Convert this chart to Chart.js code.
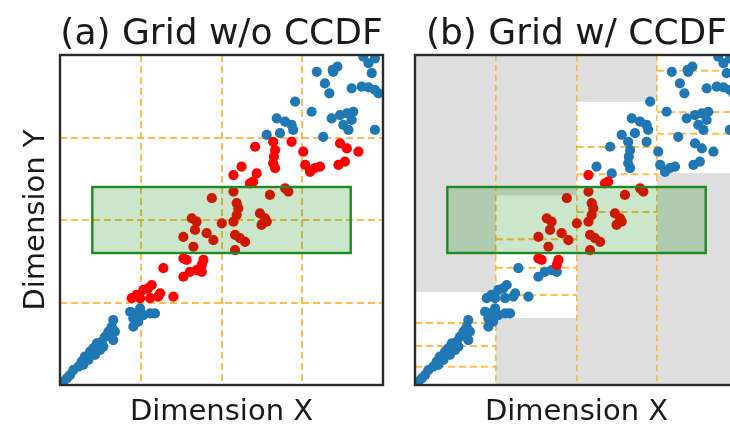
<!DOCTYPE html>
<html><head><meta charset="utf-8">
<title>Grid w/o CCDF vs Grid w/ CCDF</title>
<script src="https://cdn.jsdelivr.net/npm/chart.js@4.4.1/dist/chart.umd.min.js"></script>
<style>
html,body{margin:0;padding:0;overflow:hidden;background:#fff;width:730px;height:425px}
#panelA{position:absolute;left:0;top:0}
#panelB{position:absolute;left:400px;top:0}
</style></head>
<body>
<canvas id="panelA" width="400" height="425"></canvas>
<canvas id="panelB" width="345" height="425"></canvas>
<script>
// points (same points in both panels)
var ptX = [0.795,0.846,0.859,0.844,0.939,0.955,0.975,0.965,0.820,0.834,0.903,0.934,0.955,0.975,0.986,
  0.728,0.779,0.841,0.867,0.888,0.908,0.903,0.877,0.893,0.975,0.815,0.671,0.697,0.717,0.722,0.681,0.640,
  0.217,0.232,0.248,0.258,0.279,0.294,0.227,0.242,0.227,0.165,0.160,0.150,0.170,0.139,0.129,0.114,0.165,
  0.103,0.093,0.077,0.088,0.067,0.057,0.072,0.041,0.031,0.021,0.010,0.124,0.108,0.134,
  0.604,0.660,0.666,0.662,0.660,0.666,0.717,0.753,0.759,0.774,0.789,0.805,0.867,0.888,0.924,0.862,0.882,
  0.562,0.537,0.609,0.588,0.598,0.650,0.697,0.707,0.470,0.537,0.547,0.552,0.547,
  0.408,0.423,0.418,0.454,0.475,0.382,0.413,0.501,0.537,0.619,0.635,0.640,0.624,
  0.542,0.557,0.573,0.542,0.382,0.392,0.444,0.439,0.423,0.402,0.382,0.439,0.320,
  0.222,0.237,0.258,0.284,0.273,0.304,0.310,0.351,0.248,0.279];
var ptY = [0.949,0.949,0.965,0.955,0.995,0.975,0.990,0.945,0.914,0.884,0.899,0.904,0.902,0.894,0.884,
  0.859,0.828,0.808,0.818,0.823,0.828,0.803,0.788,0.773,0.773,0.752,0.808,0.798,0.788,0.773,0.763,0.758,
  0.222,0.217,0.232,0.212,0.217,0.217,0.202,0.192,0.177,0.197,0.177,0.162,0.162,0.146,0.131,0.126,0.136,
  0.111,0.101,0.086,0.076,0.071,0.056,0.061,0.045,0.030,0.020,0.010,0.106,0.091,0.116,
  0.722,0.737,0.712,0.692,0.672,0.657,0.737,0.707,0.667,0.646,0.657,0.662,0.732,0.717,0.707,0.667,0.677,
  0.662,0.636,0.641,0.611,0.616,0.576,0.596,0.586,0.566,0.586,0.551,0.535,0.515,
  0.505,0.495,0.470,0.460,0.439,0.449,0.419,0.490,0.495,0.520,0.505,0.495,0.485,
  0.455,0.445,0.434,0.409,0.384,0.379,0.379,0.364,0.348,0.343,0.328,0.343,0.354,
  0.263,0.273,0.288,0.303,0.293,0.268,0.278,0.268,0.263,0.263];

// uniform grid and query rectangle
var gridEdges = [0, 0.25, 0.5, 0.75, 1];
var queryBox = [0.1, 0.4, 0.9, 0.6]; // x0, y0, x1, y1

// CCDF cells per column in panel (b)
var colLow = [0, 0.203, 0.4, 0.642];
var colHigh = [0.282, 0.575, 0.858, 1];
var colSplits = [[0.055, 0.118, 0.188], [0.273, 0.355, 0.442], [0.524, 0.639, 0.721], [0.761, 0.827, 0.952]];

var titles = ['(a) Grid w/o CCDF', '(b) Grid w/ CCDF'];

var BLUE = '#1f77b4', RED = '#ff0000';
var ORANGE = 'rgba(255,165,0,0.72)';

function overlaps(a0, a1, b0, b1) { return a0 < b1 && b0 < a1; }
function cellOf(edges, v) {
  for (var i = 0; i < edges.length - 1; i++) {
    if (v >= edges[i] && v <= edges[i + 1]) return [edges[i], edges[i + 1]];
  }
  return null;
}
function hitA(x, y) {
  var cx = cellOf(gridEdges, x), cy = cellOf(gridEdges, y);
  return overlaps(cx[0], cx[1], queryBox[0], queryBox[2]) && overlaps(cy[0], cy[1], queryBox[1], queryBox[3]);
}
function hitB(x, y) {
  var c = Math.min(3, Math.floor(x / 0.25));
  var cy = cellOf([colLow[c]].concat(colSplits[c], [colHigh[c]]), y);
  if (!cy) return false;
  return overlaps(c * 0.25, (c + 1) * 0.25, queryBox[0], queryBox[2]) && overlaps(cy[0], cy[1], queryBox[1], queryBox[3]);
}
function splitPoints(hit) {
  var red = [], blue = [];
  for (var i = 0; i < ptX.length; i++) {
    (hit(ptX[i], ptY[i]) ? red : blue).push({x: ptX[i], y: ptY[i]});
  }
  return {red: red, blue: blue};
}

function gridColor(ctx) {
  if (ctx.tick && (ctx.tick.value <= 0 || ctx.tick.value >= 1)) return 'rgba(0,0,0,0)';
  return ORANGE;
}

function panelPlugin(title, ccdf, yLabel) {
  return {
    id: 'panel',
    beforeDraw: function(chart) {
      if (!ccdf) return;
      var a = chart.chartArea, xs = chart.scales.x, ys = chart.scales.y, ctx = chart.ctx;
      ctx.save();
      ctx.fillStyle = '#dedede';
      ctx.fillRect(a.left, a.top, a.right - a.left, a.bottom - a.top);
      ctx.fillStyle = '#ffffff';
      for (var c = 0; c < 4; c++) {
        var x0 = xs.getPixelForValue(gridEdges[c]), x1 = xs.getPixelForValue(gridEdges[c + 1]);
        var y0 = ys.getPixelForValue(colHigh[c]), y1 = ys.getPixelForValue(colLow[c]);
        ctx.fillRect(x0, y0, x1 - x0, y1 - y0);
      }
      ctx.restore();
    },
    beforeDatasetsDraw: function(chart) {
      if (!ccdf) return;
      var xs = chart.scales.x, ys = chart.scales.y, ctx = chart.ctx;
      ctx.save();
      ctx.strokeStyle = ORANGE;
      ctx.lineWidth = 2;
      ctx.setLineDash([7, 4]);
      for (var c = 0; c < 4; c++) {
        var x0 = xs.getPixelForValue(gridEdges[c]), x1 = xs.getPixelForValue(gridEdges[c + 1]);
        colSplits[c].forEach(function(v) {
          var y = ys.getPixelForValue(v);
          ctx.beginPath(); ctx.moveTo(x0, y); ctx.lineTo(x1, y); ctx.stroke();
        });
      }
      ctx.restore();
    },
    afterDatasetsDraw: function(chart) {
      var a = chart.chartArea, xs = chart.scales.x, ys = chart.scales.y, ctx = chart.ctx;
      var rx0 = xs.getPixelForValue(queryBox[0]), rx1 = xs.getPixelForValue(queryBox[2]);
      var ry0 = ys.getPixelForValue(queryBox[3]), ry1 = ys.getPixelForValue(queryBox[1]);
      ctx.save();
      ctx.fillStyle = 'rgba(0,128,0,0.2)';
      ctx.fillRect(rx0, ry0, rx1 - rx0, ry1 - ry0);
      ctx.strokeStyle = '#1f8a1f';
      ctx.lineWidth = 2.4;
      ctx.strokeRect(rx0, ry0, rx1 - rx0, ry1 - ry0);
      // axes frame
      ctx.strokeStyle = '#2a2a2a';
      ctx.lineWidth = 2.4;
      ctx.strokeRect(a.left, a.top, a.right - a.left, a.bottom - a.top);
      ctx.restore();
    },
    afterDraw: function(chart) {
      var a = chart.chartArea, ctx = chart.ctx;
      var cx = (a.left + a.right) / 2;
      ctx.save();
      ctx.fillStyle = '#1a1a1a';
      ctx.textAlign = 'center';
      ctx.textBaseline = 'alphabetic';
      ctx.font = '36px "DejaVu Sans"';
      ctx.fillText(title, cx, a.top - 11);
      ctx.font = '29px "DejaVu Sans"';
      ctx.fillText('Dimension X', cx, a.bottom + 35);
      if (yLabel) {
        ctx.translate(a.left - 16, (a.top + a.bottom) / 2);
        ctx.rotate(-Math.PI / 2);
        ctx.fillText('Dimension Y', 0, 0);
      }
      ctx.restore();
    }
  };
}

function makePanel(id, title, hit, ccdf, padding, yLabel) {
  var pts = splitPoints(hit);
  return new Chart(document.getElementById(id).getContext('2d'), {
    type: 'scatter',
    data: {
      datasets: [
        {label: 'hit', data: pts.red, backgroundColor: RED, borderWidth: 0, pointRadius: 5.1},
        {label: 'other', data: pts.blue, backgroundColor: BLUE, borderWidth: 0, pointRadius: 5.1}
      ]
    },
    options: {
      responsive: false,
      animation: false,
      events: [],
      layout: {padding: padding},
      plugins: {legend: {display: false}, tooltip: {enabled: false}, title: {display: false}},
      scales: {
        x: {
          type: 'linear', min: 0, max: 1,
          ticks: {display: false, stepSize: 0.25},
          grid: {drawTicks: false, color: gridColor, lineWidth: ccdf ? 1.6 : 2},
          border: {display: false, dash: ccdf ? [6, 4] : [7, 4]}
        },
        y: {
          type: 'linear', min: 0, max: 1,
          ticks: {display: false, stepSize: 0.25},
          grid: {display: !ccdf, drawTicks: false, color: gridColor, lineWidth: 2},
          border: {display: false, dash: [7, 4]}
        }
      }
    },
    plugins: [panelPlugin(title, ccdf, yLabel)]
  });
}

makePanel('panelA', titles[0], hitA, false, {left: 60, right: 17, top: 55, bottom: 40}, true);
makePanel('panelB', titles[1], hitB, true, {left: 15, right: 7, top: 55, bottom: 40}, false);
</script>
</body></html>
